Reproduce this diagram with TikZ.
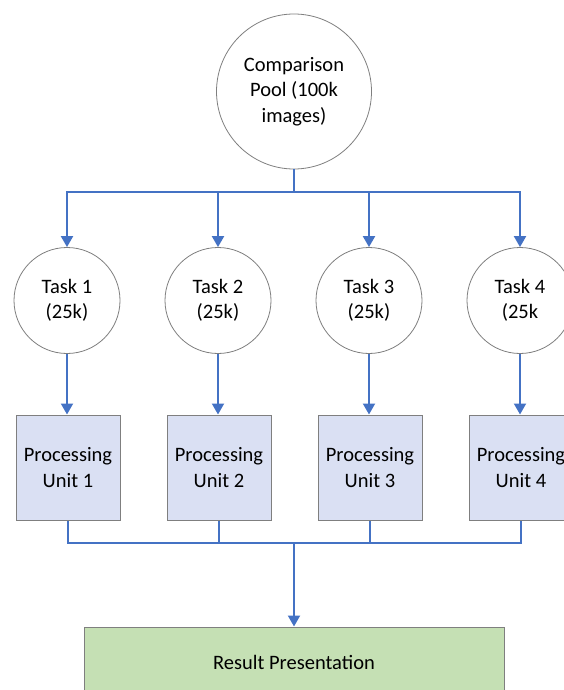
\documentclass[tikz,border=0pt]{standalone}
\usepackage{fontspec}
\setmainfont{Carlito}
\usetikzlibrary{arrows.meta}
\definecolor{lineblue}{HTML}{4472C4}
\definecolor{unitfill}{HTML}{DAE0F3}
\definecolor{resfill}{HTML}{C5E0B4}
\definecolor{bordergray}{HTML}{7F7F7F}
\begin{document}
\begin{tikzpicture}[x=1pt,y=-1pt,
  font=\fontsize{20.5}{25.5}\selectfont,
  pool/.style={circle, draw=bordergray, line width=0.8pt, minimum size=155pt, inner sep=0pt, align=center, fill=white},
  task/.style={circle, draw=bordergray, line width=0.8pt, minimum size=106pt, inner sep=0pt, align=center, fill=white},
  unit/.style={rectangle, draw=bordergray, line width=1pt, fill=unitfill, minimum width=104pt, minimum height=105pt, inner sep=0pt, align=center},
  result/.style={rectangle, draw=bordergray, line width=1pt, fill=resfill, minimum width=420pt, minimum height=70pt, inner sep=0pt, align=center},
  conn/.style={draw=lineblue, line width=2pt},
  thinconn/.style={draw=lineblue, line width=1.5pt},
  arr/.style={draw=lineblue, line width=2pt, -{Triangle[width=12pt,length=11pt]}}]
\useasboundingbox (0,0) rectangle (563,690);

\node[pool] (pool) at (294,91.5) {Comparison\\Pool (100k\\images)};

\node[task] (t1) at (67,300.5) {Task 1\\(25k)};
\node[task] (t2) at (218,300.5) {Task 2\\(25k)};
\node[task] (t3) at (369,300.5) {Task 3\\(25k)};
\node[task] (t4) at (520,300.5) {Task 4\\(25k};

\node[unit] (u1) at (68,467.5) {Processing\\Unit 1};
\node[unit] (u2) at (219,467.5) {Processing\\Unit 2};
\node[unit] (u3) at (370,467.5) {Processing\\Unit 3};
\node[unit] (u4) at (521,467.5) {Processing\\Unit 4};

\node[result] (res) at (294,662) {Result Presentation};

% top distribution
\coordinate (tm) at (294,192);
\coordinate (a1) at (67,192);
\coordinate (a2) at (218,192);
\coordinate (a3) at (369,192);
\coordinate (a4) at (520,192);
\draw[conn] (pool.south) -- (tm);
\draw[conn, line cap=rect] (a1) -- (a4);
\draw[arr] (a1) -- (t1.north);
\draw[arr] (a2) -- (t2.north);
\draw[arr] (a3) -- (t3.north);
\draw[arr] (a4) -- (t4.north);

% tasks to units
\draw[arr] (t1.south) -- (t1.south |- u1.north);
\draw[arr] (t2.south) -- (t2.south |- u2.north);
\draw[arr] (t3.south) -- (t3.south |- u3.north);
\draw[arr] (t4.south) -- (t4.south |- u4.north);

% merge
\coordinate (b1) at (68,543);
\coordinate (b2) at (219,543);
\coordinate (b3) at (370,543);
\coordinate (b4) at (521,543);
\coordinate (bm) at (294,543);
\draw[thinconn] (u1.south) -- (b1) -- (b4) -- (u4.south);
\draw[thinconn] (u2.south) -- (b2);
\draw[thinconn] (u3.south) -- (b3);
\draw[arr] (bm) -- (res.north);
\end{tikzpicture}
\end{document}
